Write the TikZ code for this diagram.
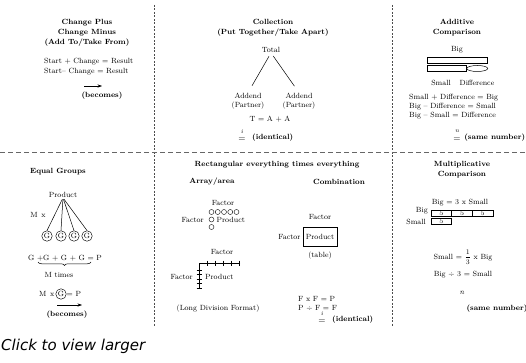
\documentclass[tikz,border=0pt]{standalone}
\usepackage{amsmath}
\usepackage{fontspec}
\newfontfamily\clickfont{DejaVu Sans}
\usetikzlibrary{arrows.meta,positioning,shapes.geometric,decorations.pathreplacing}

\begin{document}
\begin{tikzpicture}[x=1pt,y=-1pt,
        every node/.style={font=\fontsize{7.5}{9}\selectfont, inner sep=0pt},
        ttl/.style={font=\fontsize{7.5}{10.2}\selectfont\bfseries, align=center},
        bld/.style={font=\fontsize{7.5}{9}\selectfont\bfseries},
        eqsign/.style={font=\fontsize{9}{9}\selectfont},
        eqmark/.style={font=\fontsize{6}{6}\selectfont\itshape},
        divider/.style={draw=black!70, line width=0.5pt, dash pattern=on 2pt off 1.5pt},
        hdivider/.style={draw=black!60, line width=0.5pt, dash pattern=on 5pt off 3pt},
        becomes/.style={-{Stealth[length=4.5pt,width=3.2pt]}, line width=0.5pt},
        gcirc/.style={circle, draw, line width=0.45pt, minimum size=10.5pt},
        dot/.style={circle, draw, line width=0.4pt, minimum size=5pt},
        cell/.style={draw, line width=0.45pt, minimum width=20.7pt, minimum height=6pt, font=\fontsize{7}{7}\selectfont}]
        \useasboundingbox (0,0) rectangle (526,363);
        \def\vtop{5}
        \def\vbot{327}

        % dividers
        \coordinate (v1top) at (154,\vtop);
        \coordinate (v1bot) at (154,\vbot);
        \coordinate (v2top) at (392,\vtop);
        \coordinate (v2bot) at (392,\vbot);
        \coordinate (hleft) at (0,152);
        \coordinate (hright) at (526,152);
        \draw[divider] (v1top) -- (v1bot);
        \draw[divider] (v2top) -- (v2bot);
        \draw[hdivider] (hleft) -- (hright);

        % change plus / change minus
        \node(cpTitle) [ttl] at (87,33) {Change Plus\\Change Minus\\(Add To/Take From)};
        \node(cpEq1) [anchor=west] at (44,62) {Start + Change = Result};
        \node(cpEq2) [anchor=west] at (44,72) {Start-- Change = Result};
        \coordinate (cpArrL) at (84,86);
        \coordinate (cpArrR) at (102,86);
        \draw[becomes] (cpArrL) -- (cpArrR);
        \node(cpBec) [bld] at (102,96) {(becomes)};

        % collection
        \node(colTitle) [ttl] at (273,28) {Collection\\(Put Together/Take Apart)};
        \node(total) at (271,50) {Total};
        \node(addA) [align=center] at (248,101) {Addend\\(Partner)};
        \node(addB) [align=center] at (299,101) {Addend\\(Partner)};
        \draw[line width=0.5pt, shorten <=4pt, shorten >=8pt] (total.south) -- (addA.north);
        \draw[line width=0.5pt, shorten <=4pt, shorten >=8pt] (total.south) -- (addB.north);
        \node(colEq) at (270,119) {T = A + A};
        \node(colMark) [eqmark] at (242,131.5) {i};
        \node(colSign) [eqsign] at (242,139.5) {=};
        \node(colIdent) [bld, anchor=west] at (252,138) {(identical)};

        % additive comparison
        \node(adTitle) [ttl] at (457,28) {Additive\\Comparison};
        \node(adBig) at (457,50) {Big};
        \node(adBigBar) [draw, line width=0.5pt, minimum width=60pt, minimum height=6pt] at (457,60) {};
        \node(adSmallBar) [draw, line width=0.5pt, minimum width=39pt, minimum height=5.5pt, anchor=west] at (427,68.5) {};
        \node(adDiff) [draw, ellipse, line width=0.5pt, minimum width=21pt, minimum height=6pt, right=0pt of adSmallBar] {};
        \node(adSmall) at (441,83) {Small};
        \node(adDiffLbl) at (477,83) {Difference};
        \node(adEqs) [anchor=west, align=left] at (409,107) {Small + Difference = Big\\Big -- Difference = Small\\Big -- Small = Difference};
        \node(adMark) [eqmark] at (457,131.5) {n};
        \node(adSign) [eqsign] at (457,139.5) {=};
        \node(adSame) [bld, anchor=east] at (525.5,138) {(same number)};

        % equal groups
        \node(egTitle) [ttl] at (58,172) {Equal Groups};
        \node(egProd) at (63,195) {Product};
        \node(egMx) at (38,215) {M\enspace x};
        \foreach \i/\x in {1/47,2/61,3/74,4/87}{
            \node(g\i) [gcirc] at (\x,236) {G};
            \draw[line width=0.5pt, shorten <=1.5pt] (egProd.south) -- (g\i.north);
        }
        \node(egSum) at (65,258) {G +G + G + G = P};
        \coordinate (egBraceL) at (38,262);
        \coordinate (egBraceR) at (91,262);
        \draw[line width=0.5pt, decorate, decoration={brace, mirror, amplitude=3.5pt}] (egBraceL) -- (egBraceR);
        \node(egTimes) at (59,275) {M times};
        \node(egMx2) [anchor=west] at (39,294) {M\enspace x};
        \node(gOne) [gcirc] at (61,294) {G};
        \node(egEqP) [anchor=west] at (66.5,294) {= P};
        \coordinate (egArrL) at (57,305);
        \coordinate (egArrR) at (82,305);
        \draw[becomes] (egArrL) -- (egArrR);
        \node(egBec) [bld] at (67,315) {(becomes)};

        % rectangular
        \node(rcTitle) [ttl] at (277,165) {Rectangular everything times everything};
        \node(rcArray) [ttl] at (212,182) {Array/area};
        \node(rcComb) [ttl] at (339,182) {Combination};

        % array
        \node(arF1) at (223,203) {Factor};
        \foreach \k in {0,...,4}
            \node(dotT\k) [dot] at (211.5+6.25*\k,212) {};
        \node(dotL1) [dot] at (211.5,219.5) {};
        \node(dotL2) [dot] at (211.5,227) {};
        \node(arF2) [anchor=east] at (204,220) {Factor};
        \node(arP) [anchor=west] at (216.5,220) {Product};

        % long division
        \node(ldF1) at (222,252) {Factor};
        \coordinate (ldCorner) at (199,263);
        \coordinate (ldRight) at (240,263);
        \coordinate (ldBottom) at (199,288);
        \draw[line width=0.5pt] (ldRight) -- (ldCorner) -- (ldBottom);
        \foreach \x in {207,215,223,231,239}
            \draw[line width=0.4pt] (\x,260.5) -- (\x,265.5);
        \foreach \y in {270,274.5,279,283.5,288}
            \draw[line width=0.4pt] (196.5,\y) -- (201.5,\y);
        \node(ldF2) [anchor=east] at (193,277) {Factor};
        \node(ldP) [anchor=west] at (205,277) {Product};
        \node(ldCap) at (218,309) {(Long Division Format)};

        % combination
        \node(cbF1) at (320,217) {Factor};
        \node(cbProd) [draw, line width=0.5pt, minimum width=34pt, minimum height=19pt] at (320,237) {Product};
        \node(cbF2) [left=2pt of cbProd] {Factor};
        \node(cbTable) at (320,256) {(table)};
        \node(cbEqs) [anchor=west, align=left] at (298,303.5) {F x F = P\\P ÷ F = F};
        \node(cbMark) [eqmark] at (322,313.5) {i};
        \node(cbSign) [eqsign] at (322,321.5) {=};
        \node(cbIdent) [bld, anchor=west] at (332,320) {(identical)};

        % multiplicative comparison
        \node(mcTitle) [ttl] at (462,170) {Multiplicative\\Comparison};
        \node(mcEq) at (460,203) {Big = 3 x Small};
        \foreach \k in {0,1,2}
            \node(bigC\k) [cell] at (441.3+20.7*\k,213) {5};
        \node(smC) [cell] at (441.3,221) {5};
        \node(mcBig) [anchor=east] at (428,211) {Big};
        \node(mcSmall) [anchor=east] at (426,222) {Small};
        \node(mcFrac) at (463,257) {Small = $\dfrac{1}{3}$ x Big};
        \node(mcDiv) at (463,275) {Big ÷ 3 = Small};
        \node(mcN) at (462,293) {\textit{n}};
        \node(mcSame) [bld] at (497,309) {(same number)};

        \node(click) [anchor=west, font=\clickfont\itshape\fontsize{15}{18}\selectfont] at (1,346) {Click to view larger};
    \end{tikzpicture}
\end{document}
